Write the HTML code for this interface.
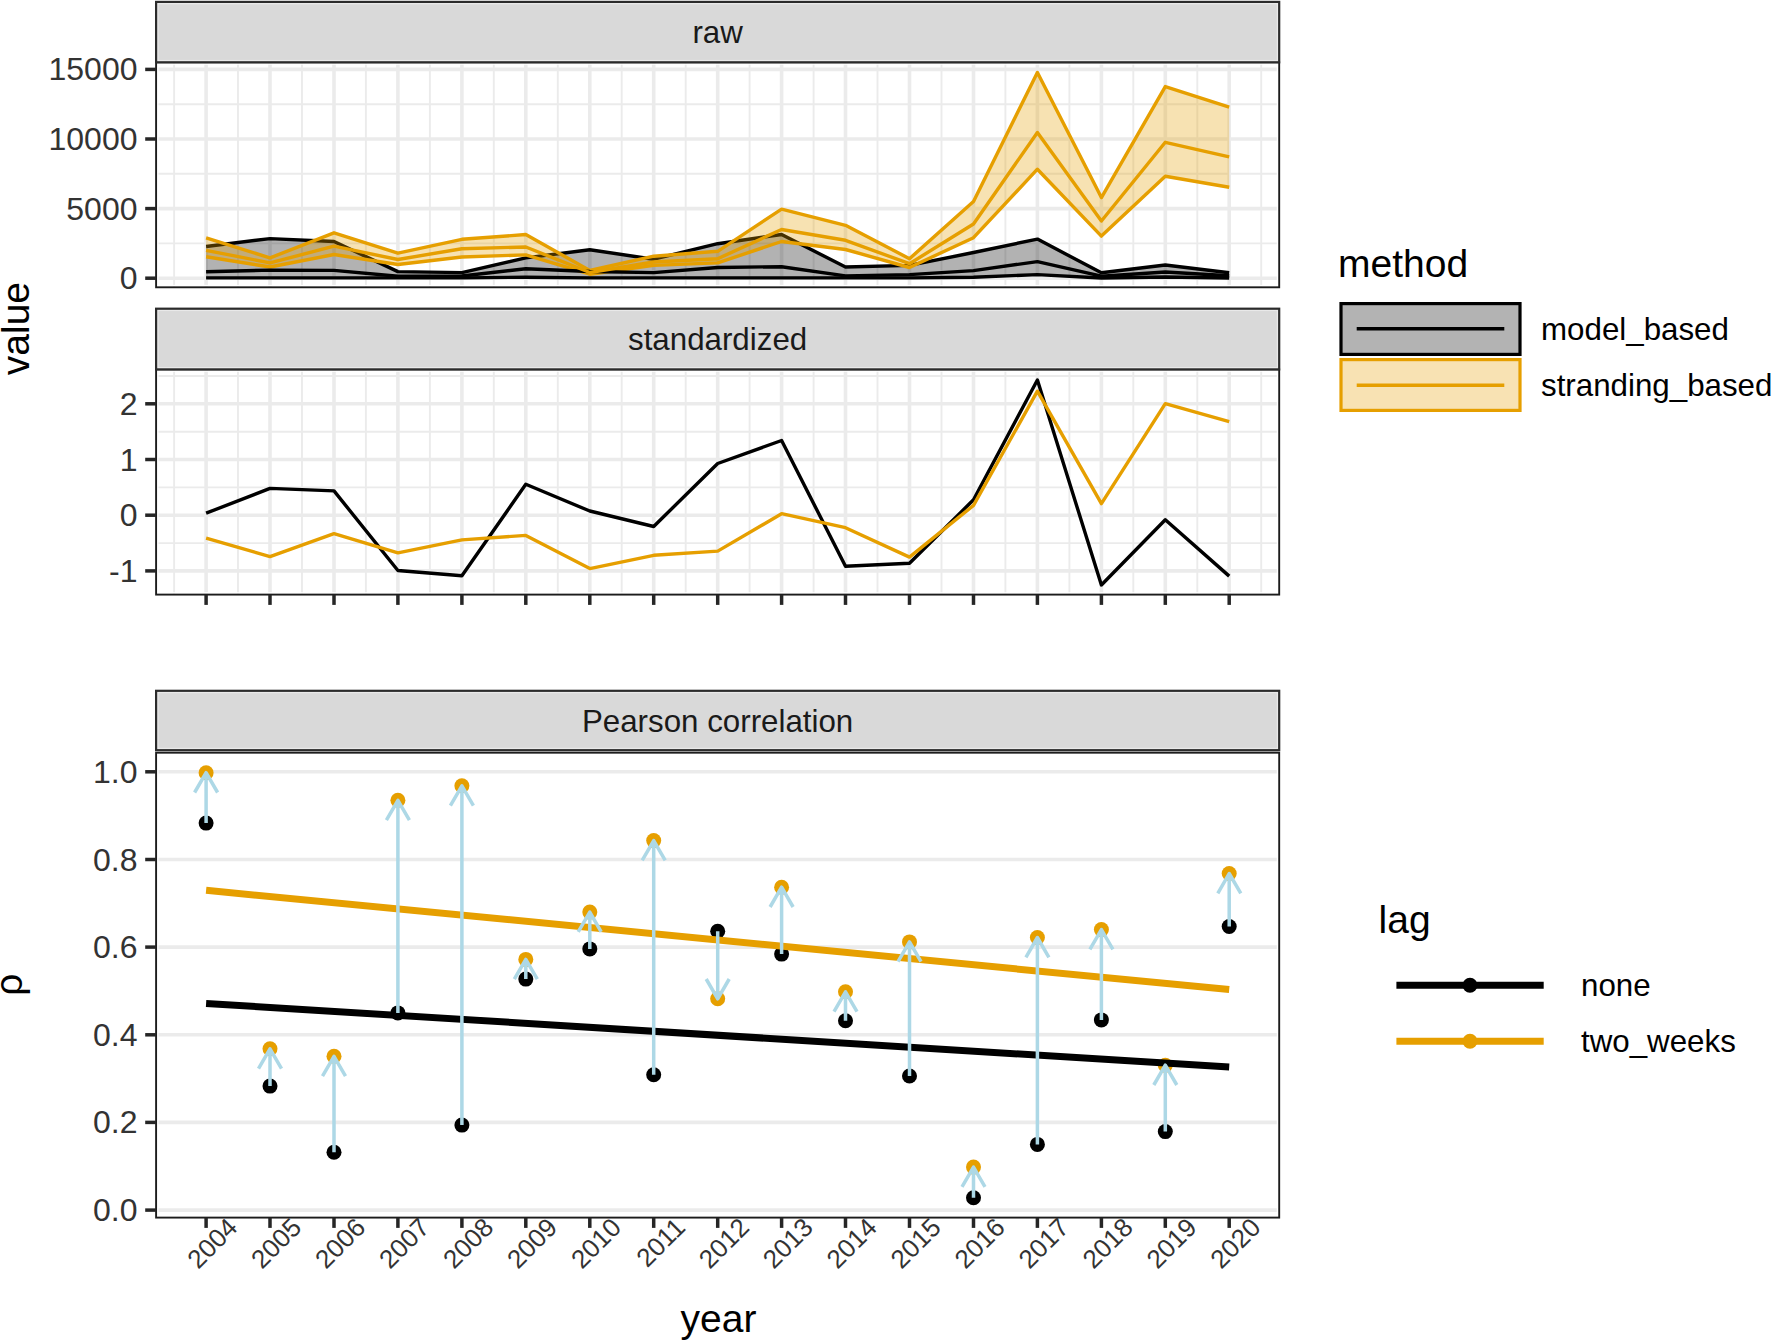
<!DOCTYPE html>
<html><head><meta charset="utf-8"><title>figure</title>
<style>html,body{margin:0;padding:0;background:#fff}svg{display:block}text{font-family:"Liberation Sans",sans-serif}.a{font-size:32px;fill:#333333}.s{font-size:31.3px;fill:#1A1A1A}.t{font-size:39px;fill:#000}.l{font-size:31.3px;fill:#000}</style></head><body>
<svg width="1772" height="1342" viewBox="0 0 1772 1342">
<rect width="1772" height="1342" fill="#fff"/>
<g>
<line x1="174.1" x2="174.1" y1="62.3" y2="287.3" stroke="#EBEBEB" stroke-width="1.9"/>
<line x1="238.0" x2="238.0" y1="62.3" y2="287.3" stroke="#EBEBEB" stroke-width="1.9"/>
<line x1="302.0" x2="302.0" y1="62.3" y2="287.3" stroke="#EBEBEB" stroke-width="1.9"/>
<line x1="365.9" x2="365.9" y1="62.3" y2="287.3" stroke="#EBEBEB" stroke-width="1.9"/>
<line x1="429.9" x2="429.9" y1="62.3" y2="287.3" stroke="#EBEBEB" stroke-width="1.9"/>
<line x1="493.8" x2="493.8" y1="62.3" y2="287.3" stroke="#EBEBEB" stroke-width="1.9"/>
<line x1="557.8" x2="557.8" y1="62.3" y2="287.3" stroke="#EBEBEB" stroke-width="1.9"/>
<line x1="621.7" x2="621.7" y1="62.3" y2="287.3" stroke="#EBEBEB" stroke-width="1.9"/>
<line x1="685.7" x2="685.7" y1="62.3" y2="287.3" stroke="#EBEBEB" stroke-width="1.9"/>
<line x1="749.6" x2="749.6" y1="62.3" y2="287.3" stroke="#EBEBEB" stroke-width="1.9"/>
<line x1="813.6" x2="813.6" y1="62.3" y2="287.3" stroke="#EBEBEB" stroke-width="1.9"/>
<line x1="877.5" x2="877.5" y1="62.3" y2="287.3" stroke="#EBEBEB" stroke-width="1.9"/>
<line x1="941.5" x2="941.5" y1="62.3" y2="287.3" stroke="#EBEBEB" stroke-width="1.9"/>
<line x1="1005.4" x2="1005.4" y1="62.3" y2="287.3" stroke="#EBEBEB" stroke-width="1.9"/>
<line x1="1069.4" x2="1069.4" y1="62.3" y2="287.3" stroke="#EBEBEB" stroke-width="1.9"/>
<line x1="1133.3" x2="1133.3" y1="62.3" y2="287.3" stroke="#EBEBEB" stroke-width="1.9"/>
<line x1="1197.3" x2="1197.3" y1="62.3" y2="287.3" stroke="#EBEBEB" stroke-width="1.9"/>
<line x1="1261.2" x2="1261.2" y1="62.3" y2="287.3" stroke="#EBEBEB" stroke-width="1.9"/>
<line x1="156.1" x2="1279.2" y1="243.4" y2="243.4" stroke="#EBEBEB" stroke-width="1.9"/>
<line x1="156.1" x2="1279.2" y1="173.8" y2="173.8" stroke="#EBEBEB" stroke-width="1.9"/>
<line x1="156.1" x2="1279.2" y1="104.2" y2="104.2" stroke="#EBEBEB" stroke-width="1.9"/>
<line x1="206.1" x2="206.1" y1="62.3" y2="287.3" stroke="#EBEBEB" stroke-width="3.6"/>
<line x1="270.0" x2="270.0" y1="62.3" y2="287.3" stroke="#EBEBEB" stroke-width="3.6"/>
<line x1="334.0" x2="334.0" y1="62.3" y2="287.3" stroke="#EBEBEB" stroke-width="3.6"/>
<line x1="397.9" x2="397.9" y1="62.3" y2="287.3" stroke="#EBEBEB" stroke-width="3.6"/>
<line x1="461.9" x2="461.9" y1="62.3" y2="287.3" stroke="#EBEBEB" stroke-width="3.6"/>
<line x1="525.8" x2="525.8" y1="62.3" y2="287.3" stroke="#EBEBEB" stroke-width="3.6"/>
<line x1="589.8" x2="589.8" y1="62.3" y2="287.3" stroke="#EBEBEB" stroke-width="3.6"/>
<line x1="653.7" x2="653.7" y1="62.3" y2="287.3" stroke="#EBEBEB" stroke-width="3.6"/>
<line x1="717.7" x2="717.7" y1="62.3" y2="287.3" stroke="#EBEBEB" stroke-width="3.6"/>
<line x1="781.6" x2="781.6" y1="62.3" y2="287.3" stroke="#EBEBEB" stroke-width="3.6"/>
<line x1="845.5" x2="845.5" y1="62.3" y2="287.3" stroke="#EBEBEB" stroke-width="3.6"/>
<line x1="909.5" x2="909.5" y1="62.3" y2="287.3" stroke="#EBEBEB" stroke-width="3.6"/>
<line x1="973.5" x2="973.5" y1="62.3" y2="287.3" stroke="#EBEBEB" stroke-width="3.6"/>
<line x1="1037.4" x2="1037.4" y1="62.3" y2="287.3" stroke="#EBEBEB" stroke-width="3.6"/>
<line x1="1101.4" x2="1101.4" y1="62.3" y2="287.3" stroke="#EBEBEB" stroke-width="3.6"/>
<line x1="1165.3" x2="1165.3" y1="62.3" y2="287.3" stroke="#EBEBEB" stroke-width="3.6"/>
<line x1="1229.2" x2="1229.2" y1="62.3" y2="287.3" stroke="#EBEBEB" stroke-width="3.6"/>
<line x1="156.1" x2="1279.2" y1="278.2" y2="278.2" stroke="#EBEBEB" stroke-width="3.6"/>
<line x1="156.1" x2="1279.2" y1="208.6" y2="208.6" stroke="#EBEBEB" stroke-width="3.6"/>
<line x1="156.1" x2="1279.2" y1="139.0" y2="139.0" stroke="#EBEBEB" stroke-width="3.6"/>
<line x1="156.1" x2="1279.2" y1="69.4" y2="69.4" stroke="#EBEBEB" stroke-width="3.6"/>
</g>
<polygon points="206.1,246.5 270.0,238.6 334.0,241.5 397.9,271.6 461.9,272.6 525.8,257.9 589.8,249.8 653.7,259.2 717.7,243.7 781.6,234.5 845.5,267.0 909.5,265.4 973.5,252.5 1037.4,239.1 1101.4,272.8 1165.3,265.0 1229.2,272.8 1229.2,278.0 1165.3,277.0 1101.4,278.0 1037.4,274.6 973.5,277.3 909.5,277.9 845.5,277.9 781.6,277.9 717.7,277.9 653.7,277.9 589.8,277.9 525.8,277.2 461.9,277.9 397.9,277.9 334.0,277.9 270.0,277.9 206.1,277.9" fill="#000" fill-opacity="0.3"/>
<polyline points="206.1,246.5 270.0,238.6 334.0,241.5 397.9,271.6 461.9,272.6 525.8,257.9 589.8,249.8 653.7,259.2 717.7,243.7 781.6,234.5 845.5,267.0 909.5,265.4 973.5,252.5 1037.4,239.1 1101.4,272.8 1165.3,265.0 1229.2,272.8" fill="none" stroke="#000" stroke-width="3.4" stroke-linejoin="round"/>
<polyline points="206.1,277.9 270.0,277.9 334.0,277.9 397.9,277.9 461.9,277.9 525.8,277.2 589.8,277.9 653.7,277.9 717.7,277.9 781.6,277.9 845.5,277.9 909.5,277.9 973.5,277.3 1037.4,274.6 1101.4,278.0 1165.3,277.0 1229.2,278.0" fill="none" stroke="#000" stroke-width="3.4" stroke-linejoin="round"/>
<polygon points="206.1,237.8 270.0,257.9 334.0,232.8 397.9,253.2 461.9,239.3 525.8,234.5 589.8,270.5 653.7,256.2 717.7,251.3 781.6,209.1 845.5,225.3 909.5,258.7 973.5,201.5 1037.4,72.4 1101.4,197.6 1165.3,86.6 1229.2,107.1 1229.2,187.3 1165.3,176.3 1101.4,236.1 1037.4,169.2 973.5,237.7 909.5,267.5 845.5,249.5 781.6,241.5 717.7,262.9 653.7,265.4 589.8,274.2 525.8,254.9 461.9,257.0 397.9,264.5 334.0,254.5 270.0,267.0 206.1,256.7" fill="#E69F00" fill-opacity="0.3"/>
<polyline points="206.1,237.8 270.0,257.9 334.0,232.8 397.9,253.2 461.9,239.3 525.8,234.5 589.8,270.5 653.7,256.2 717.7,251.3 781.6,209.1 845.5,225.3 909.5,258.7 973.5,201.5 1037.4,72.4 1101.4,197.6 1165.3,86.6 1229.2,107.1" fill="none" stroke="#E69F00" stroke-width="3.4" stroke-linejoin="round"/>
<polyline points="206.1,256.7 270.0,267.0 334.0,254.5 397.9,264.5 461.9,257.0 525.8,254.9 589.8,274.2 653.7,265.4 717.7,262.9 781.6,241.5 845.5,249.5 909.5,267.5 973.5,237.7 1037.4,169.2 1101.4,236.1 1165.3,176.3 1229.2,187.3" fill="none" stroke="#E69F00" stroke-width="3.4" stroke-linejoin="round"/>
<polyline points="206.1,271.7 270.0,270.1 334.0,270.4 397.9,276.2 461.9,276.0 525.8,268.7 589.8,271.5 653.7,272.6 717.7,267.5 781.6,266.7 845.5,275.9 909.5,274.6 973.5,270.6 1037.4,261.6 1101.4,276.2 1165.3,272.0 1229.2,275.8" fill="none" stroke="#000" stroke-width="3.4" stroke-linejoin="round"/>
<polyline points="206.1,250.3 270.0,262.9 334.0,246.2 397.9,259.5 461.9,248.7 525.8,247.0 589.8,272.5 653.7,262.0 717.7,258.7 781.6,229.5 845.5,240.3 909.5,263.7 973.5,224.0 1037.4,132.5 1101.4,221.0 1165.3,142.3 1229.2,156.9" fill="none" stroke="#E69F00" stroke-width="3.4" stroke-linejoin="round"/>
<rect x="157.79999999999998" y="64.0" width="1119.7" height="221.6" fill="none" stroke="#fff" stroke-width="1.4"/>
<rect x="156.1" y="62.3" width="1123.1" height="225.0" fill="none" stroke="#1C1C1C" stroke-width="1.9"/>
<rect x="156.1" y="1.9" width="1123.1" height="60.4" fill="#D9D9D9"/>
<rect x="157.79999999999998" y="3.5999999999999996" width="1119.7" height="57.0" fill="none" stroke="#E9E9E9" stroke-width="1.4"/>
<rect x="156.1" y="1.9" width="1123.1" height="60.4" fill="none" stroke="#2B2B2B" stroke-width="2.2"/>
<text class="s" x="717.6" y="43.3" text-anchor="middle">raw</text>
<line x1="145.2" x2="156.1" y1="69.4" y2="69.4" stroke="#262626" stroke-width="3.5"/>
<text class="a" x="137.5" y="80.4" text-anchor="end">15000</text>
<line x1="145.2" x2="156.1" y1="139.0" y2="139.0" stroke="#262626" stroke-width="3.5"/>
<text class="a" x="137.5" y="150.0" text-anchor="end">10000</text>
<line x1="145.2" x2="156.1" y1="208.6" y2="208.6" stroke="#262626" stroke-width="3.5"/>
<text class="a" x="137.5" y="219.6" text-anchor="end">5000</text>
<line x1="145.2" x2="156.1" y1="278.2" y2="278.2" stroke="#262626" stroke-width="3.5"/>
<text class="a" x="137.5" y="289.2" text-anchor="end">0</text>
<g>
<line x1="174.1" x2="174.1" y1="369.4" y2="594.6" stroke="#EBEBEB" stroke-width="1.9"/>
<line x1="238.0" x2="238.0" y1="369.4" y2="594.6" stroke="#EBEBEB" stroke-width="1.9"/>
<line x1="302.0" x2="302.0" y1="369.4" y2="594.6" stroke="#EBEBEB" stroke-width="1.9"/>
<line x1="365.9" x2="365.9" y1="369.4" y2="594.6" stroke="#EBEBEB" stroke-width="1.9"/>
<line x1="429.9" x2="429.9" y1="369.4" y2="594.6" stroke="#EBEBEB" stroke-width="1.9"/>
<line x1="493.8" x2="493.8" y1="369.4" y2="594.6" stroke="#EBEBEB" stroke-width="1.9"/>
<line x1="557.8" x2="557.8" y1="369.4" y2="594.6" stroke="#EBEBEB" stroke-width="1.9"/>
<line x1="621.7" x2="621.7" y1="369.4" y2="594.6" stroke="#EBEBEB" stroke-width="1.9"/>
<line x1="685.7" x2="685.7" y1="369.4" y2="594.6" stroke="#EBEBEB" stroke-width="1.9"/>
<line x1="749.6" x2="749.6" y1="369.4" y2="594.6" stroke="#EBEBEB" stroke-width="1.9"/>
<line x1="813.6" x2="813.6" y1="369.4" y2="594.6" stroke="#EBEBEB" stroke-width="1.9"/>
<line x1="877.5" x2="877.5" y1="369.4" y2="594.6" stroke="#EBEBEB" stroke-width="1.9"/>
<line x1="941.5" x2="941.5" y1="369.4" y2="594.6" stroke="#EBEBEB" stroke-width="1.9"/>
<line x1="1005.4" x2="1005.4" y1="369.4" y2="594.6" stroke="#EBEBEB" stroke-width="1.9"/>
<line x1="1069.4" x2="1069.4" y1="369.4" y2="594.6" stroke="#EBEBEB" stroke-width="1.9"/>
<line x1="1133.3" x2="1133.3" y1="369.4" y2="594.6" stroke="#EBEBEB" stroke-width="1.9"/>
<line x1="1197.3" x2="1197.3" y1="369.4" y2="594.6" stroke="#EBEBEB" stroke-width="1.9"/>
<line x1="1261.2" x2="1261.2" y1="369.4" y2="594.6" stroke="#EBEBEB" stroke-width="1.9"/>
<line x1="156.1" x2="1279.2" y1="376.0" y2="376.0" stroke="#EBEBEB" stroke-width="1.9"/>
<line x1="156.1" x2="1279.2" y1="431.7" y2="431.7" stroke="#EBEBEB" stroke-width="1.9"/>
<line x1="156.1" x2="1279.2" y1="487.4" y2="487.4" stroke="#EBEBEB" stroke-width="1.9"/>
<line x1="156.1" x2="1279.2" y1="543.1" y2="543.1" stroke="#EBEBEB" stroke-width="1.9"/>
<line x1="206.1" x2="206.1" y1="369.4" y2="594.6" stroke="#EBEBEB" stroke-width="3.6"/>
<line x1="270.0" x2="270.0" y1="369.4" y2="594.6" stroke="#EBEBEB" stroke-width="3.6"/>
<line x1="334.0" x2="334.0" y1="369.4" y2="594.6" stroke="#EBEBEB" stroke-width="3.6"/>
<line x1="397.9" x2="397.9" y1="369.4" y2="594.6" stroke="#EBEBEB" stroke-width="3.6"/>
<line x1="461.9" x2="461.9" y1="369.4" y2="594.6" stroke="#EBEBEB" stroke-width="3.6"/>
<line x1="525.8" x2="525.8" y1="369.4" y2="594.6" stroke="#EBEBEB" stroke-width="3.6"/>
<line x1="589.8" x2="589.8" y1="369.4" y2="594.6" stroke="#EBEBEB" stroke-width="3.6"/>
<line x1="653.7" x2="653.7" y1="369.4" y2="594.6" stroke="#EBEBEB" stroke-width="3.6"/>
<line x1="717.7" x2="717.7" y1="369.4" y2="594.6" stroke="#EBEBEB" stroke-width="3.6"/>
<line x1="781.6" x2="781.6" y1="369.4" y2="594.6" stroke="#EBEBEB" stroke-width="3.6"/>
<line x1="845.5" x2="845.5" y1="369.4" y2="594.6" stroke="#EBEBEB" stroke-width="3.6"/>
<line x1="909.5" x2="909.5" y1="369.4" y2="594.6" stroke="#EBEBEB" stroke-width="3.6"/>
<line x1="973.5" x2="973.5" y1="369.4" y2="594.6" stroke="#EBEBEB" stroke-width="3.6"/>
<line x1="1037.4" x2="1037.4" y1="369.4" y2="594.6" stroke="#EBEBEB" stroke-width="3.6"/>
<line x1="1101.4" x2="1101.4" y1="369.4" y2="594.6" stroke="#EBEBEB" stroke-width="3.6"/>
<line x1="1165.3" x2="1165.3" y1="369.4" y2="594.6" stroke="#EBEBEB" stroke-width="3.6"/>
<line x1="1229.2" x2="1229.2" y1="369.4" y2="594.6" stroke="#EBEBEB" stroke-width="3.6"/>
<line x1="156.1" x2="1279.2" y1="403.8" y2="403.8" stroke="#EBEBEB" stroke-width="3.6"/>
<line x1="156.1" x2="1279.2" y1="459.5" y2="459.5" stroke="#EBEBEB" stroke-width="3.6"/>
<line x1="156.1" x2="1279.2" y1="515.2" y2="515.2" stroke="#EBEBEB" stroke-width="3.6"/>
<line x1="156.1" x2="1279.2" y1="570.9" y2="570.9" stroke="#EBEBEB" stroke-width="3.6"/>
</g>
<polyline points="206.1,513.2 270.0,488.4 334.0,490.9 397.9,570.5 461.9,575.8 525.8,484.3 589.8,511.0 653.7,526.5 717.7,463.5 781.6,440.5 845.5,566.3 909.5,563.3 973.5,499.8 1037.4,380.0 1101.4,585.0 1165.3,519.8 1229.2,576.1" fill="none" stroke="#000" stroke-width="3.4" stroke-linejoin="round"/>
<polyline points="206.1,538.2 270.0,556.6 334.0,533.7 397.9,552.9 461.9,539.9 525.8,535.4 589.8,568.6 653.7,555.3 717.7,551.1 781.6,513.7 845.5,527.7 909.5,557.1 973.5,505.4 1037.4,391.2 1101.4,503.6 1165.3,403.7 1229.2,421.6" fill="none" stroke="#E69F00" stroke-width="3.4" stroke-linejoin="round"/>
<rect x="157.79999999999998" y="371.09999999999997" width="1119.7" height="221.8" fill="none" stroke="#fff" stroke-width="1.4"/>
<rect x="156.1" y="369.4" width="1123.1" height="225.2" fill="none" stroke="#1C1C1C" stroke-width="1.9"/>
<rect x="156.1" y="308.7" width="1123.1" height="60.7" fill="#D9D9D9"/>
<rect x="157.79999999999998" y="310.4" width="1119.7" height="57.3" fill="none" stroke="#E9E9E9" stroke-width="1.4"/>
<rect x="156.1" y="308.7" width="1123.1" height="60.7" fill="none" stroke="#2B2B2B" stroke-width="2.2"/>
<text class="s" x="717.6" y="350.2" text-anchor="middle">standardized</text>
<line x1="145.2" x2="156.1" y1="403.8" y2="403.8" stroke="#262626" stroke-width="3.5"/>
<text class="a" x="137.5" y="414.8" text-anchor="end">2</text>
<line x1="145.2" x2="156.1" y1="459.5" y2="459.5" stroke="#262626" stroke-width="3.5"/>
<text class="a" x="137.5" y="470.5" text-anchor="end">1</text>
<line x1="145.2" x2="156.1" y1="515.2" y2="515.2" stroke="#262626" stroke-width="3.5"/>
<text class="a" x="137.5" y="526.2" text-anchor="end">0</text>
<line x1="145.2" x2="156.1" y1="570.9" y2="570.9" stroke="#262626" stroke-width="3.5"/>
<text class="a" x="137.5" y="581.9" text-anchor="end">-1</text>
<line x1="206.1" x2="206.1" y1="594.6" y2="604.9" stroke="#262626" stroke-width="3.5"/>
<line x1="270.0" x2="270.0" y1="594.6" y2="604.9" stroke="#262626" stroke-width="3.5"/>
<line x1="334.0" x2="334.0" y1="594.6" y2="604.9" stroke="#262626" stroke-width="3.5"/>
<line x1="397.9" x2="397.9" y1="594.6" y2="604.9" stroke="#262626" stroke-width="3.5"/>
<line x1="461.9" x2="461.9" y1="594.6" y2="604.9" stroke="#262626" stroke-width="3.5"/>
<line x1="525.8" x2="525.8" y1="594.6" y2="604.9" stroke="#262626" stroke-width="3.5"/>
<line x1="589.8" x2="589.8" y1="594.6" y2="604.9" stroke="#262626" stroke-width="3.5"/>
<line x1="653.7" x2="653.7" y1="594.6" y2="604.9" stroke="#262626" stroke-width="3.5"/>
<line x1="717.7" x2="717.7" y1="594.6" y2="604.9" stroke="#262626" stroke-width="3.5"/>
<line x1="781.6" x2="781.6" y1="594.6" y2="604.9" stroke="#262626" stroke-width="3.5"/>
<line x1="845.5" x2="845.5" y1="594.6" y2="604.9" stroke="#262626" stroke-width="3.5"/>
<line x1="909.5" x2="909.5" y1="594.6" y2="604.9" stroke="#262626" stroke-width="3.5"/>
<line x1="973.5" x2="973.5" y1="594.6" y2="604.9" stroke="#262626" stroke-width="3.5"/>
<line x1="1037.4" x2="1037.4" y1="594.6" y2="604.9" stroke="#262626" stroke-width="3.5"/>
<line x1="1101.4" x2="1101.4" y1="594.6" y2="604.9" stroke="#262626" stroke-width="3.5"/>
<line x1="1165.3" x2="1165.3" y1="594.6" y2="604.9" stroke="#262626" stroke-width="3.5"/>
<line x1="1229.2" x2="1229.2" y1="594.6" y2="604.9" stroke="#262626" stroke-width="3.5"/>
<g>
<line x1="156.1" x2="1279.2" y1="1210.1" y2="1210.1" stroke="#EBEBEB" stroke-width="3.6"/>
<line x1="156.1" x2="1279.2" y1="1122.4" y2="1122.4" stroke="#EBEBEB" stroke-width="3.6"/>
<line x1="156.1" x2="1279.2" y1="1034.8" y2="1034.8" stroke="#EBEBEB" stroke-width="3.6"/>
<line x1="156.1" x2="1279.2" y1="947.1" y2="947.1" stroke="#EBEBEB" stroke-width="3.6"/>
<line x1="156.1" x2="1279.2" y1="859.5" y2="859.5" stroke="#EBEBEB" stroke-width="3.6"/>
<line x1="156.1" x2="1279.2" y1="771.8" y2="771.8" stroke="#EBEBEB" stroke-width="3.6"/>
</g>
<circle cx="206.1" cy="823.1" r="7.5" fill="#000"/>
<circle cx="206.1" cy="772.7" r="7.5" fill="#E69F00"/>
<circle cx="270.0" cy="1086.1" r="7.5" fill="#000"/>
<circle cx="270.0" cy="1048.8" r="7.5" fill="#E69F00"/>
<circle cx="334.0" cy="1152.2" r="7.5" fill="#000"/>
<circle cx="334.0" cy="1056.3" r="7.5" fill="#E69F00"/>
<circle cx="397.9" cy="1012.9" r="7.5" fill="#000"/>
<circle cx="397.9" cy="800.3" r="7.5" fill="#E69F00"/>
<circle cx="461.9" cy="1125.1" r="7.5" fill="#000"/>
<circle cx="461.9" cy="785.8" r="7.5" fill="#E69F00"/>
<circle cx="525.8" cy="979.1" r="7.5" fill="#000"/>
<circle cx="525.8" cy="959.4" r="7.5" fill="#E69F00"/>
<circle cx="589.8" cy="948.9" r="7.5" fill="#000"/>
<circle cx="589.8" cy="912.1" r="7.5" fill="#E69F00"/>
<circle cx="653.7" cy="1074.7" r="7.5" fill="#000"/>
<circle cx="653.7" cy="840.6" r="7.5" fill="#E69F00"/>
<circle cx="717.7" cy="931.3" r="7.5" fill="#000"/>
<circle cx="717.7" cy="998.8" r="7.5" fill="#E69F00"/>
<circle cx="781.6" cy="954.1" r="7.5" fill="#000"/>
<circle cx="781.6" cy="887.2" r="7.5" fill="#E69F00"/>
<circle cx="845.5" cy="1020.8" r="7.5" fill="#000"/>
<circle cx="845.5" cy="991.8" r="7.5" fill="#E69F00"/>
<circle cx="909.5" cy="1076.0" r="7.5" fill="#000"/>
<circle cx="909.5" cy="941.9" r="7.5" fill="#E69F00"/>
<circle cx="973.5" cy="1197.8" r="7.5" fill="#000"/>
<circle cx="973.5" cy="1167.1" r="7.5" fill="#E69F00"/>
<circle cx="1037.4" cy="1144.4" r="7.5" fill="#000"/>
<circle cx="1037.4" cy="937.5" r="7.5" fill="#E69F00"/>
<circle cx="1101.4" cy="1019.9" r="7.5" fill="#000"/>
<circle cx="1101.4" cy="929.6" r="7.5" fill="#E69F00"/>
<circle cx="1165.3" cy="1131.6" r="7.5" fill="#000"/>
<circle cx="1165.3" cy="1065.2" r="7.5" fill="#E69F00"/>
<circle cx="1229.2" cy="926.5" r="7.5" fill="#000"/>
<circle cx="1229.2" cy="873.5" r="7.5" fill="#E69F00"/>
<line x1="206.1" y1="1003.5" x2="1229.2" y2="1067.0" stroke="#000" stroke-width="7"/>
<line x1="206.1" y1="890.3" x2="1229.2" y2="989.6" stroke="#E69F00" stroke-width="7"/>
<path d="M206.1,823.1L206.1,772.7M194.6,792.5L206.1,772.7L217.6,792.5" fill="none" stroke="#ADD8E6" stroke-width="3.5" stroke-linejoin="round"/>
<path d="M270.0,1086.1L270.0,1048.8M258.5,1068.6L270.0,1048.8L281.5,1068.6" fill="none" stroke="#ADD8E6" stroke-width="3.5" stroke-linejoin="round"/>
<path d="M334.0,1152.2L334.0,1056.3M322.5,1076.1L334.0,1056.3L345.5,1076.1" fill="none" stroke="#ADD8E6" stroke-width="3.5" stroke-linejoin="round"/>
<path d="M397.9,1012.9L397.9,800.3M386.4,820.1L397.9,800.3L409.4,820.1" fill="none" stroke="#ADD8E6" stroke-width="3.5" stroke-linejoin="round"/>
<path d="M461.9,1125.1L461.9,785.8M450.4,805.6L461.9,785.8L473.4,805.6" fill="none" stroke="#ADD8E6" stroke-width="3.5" stroke-linejoin="round"/>
<path d="M525.8,979.1L525.8,959.4M514.3,979.2L525.8,959.4L537.3,979.2" fill="none" stroke="#ADD8E6" stroke-width="3.5" stroke-linejoin="round"/>
<path d="M589.8,948.9L589.8,912.1M578.2,931.9L589.8,912.1L601.2,931.9" fill="none" stroke="#ADD8E6" stroke-width="3.5" stroke-linejoin="round"/>
<path d="M653.7,1074.7L653.7,840.6M642.2,860.4L653.7,840.6L665.2,860.4" fill="none" stroke="#ADD8E6" stroke-width="3.5" stroke-linejoin="round"/>
<path d="M717.7,931.3L717.7,998.8M706.2,979.0L717.7,998.8L729.2,979.0" fill="none" stroke="#ADD8E6" stroke-width="3.5" stroke-linejoin="round"/>
<path d="M781.6,954.1L781.6,887.2M770.1,907.0L781.6,887.2L793.1,907.0" fill="none" stroke="#ADD8E6" stroke-width="3.5" stroke-linejoin="round"/>
<path d="M845.5,1020.8L845.5,991.8M834.0,1011.6L845.5,991.8L857.0,1011.6" fill="none" stroke="#ADD8E6" stroke-width="3.5" stroke-linejoin="round"/>
<path d="M909.5,1076.0L909.5,941.9M898.0,961.7L909.5,941.9L921.0,961.7" fill="none" stroke="#ADD8E6" stroke-width="3.5" stroke-linejoin="round"/>
<path d="M973.5,1197.8L973.5,1167.1M962.0,1186.9L973.5,1167.1L985.0,1186.9" fill="none" stroke="#ADD8E6" stroke-width="3.5" stroke-linejoin="round"/>
<path d="M1037.4,1144.4L1037.4,937.5M1025.9,957.3L1037.4,937.5L1048.9,957.3" fill="none" stroke="#ADD8E6" stroke-width="3.5" stroke-linejoin="round"/>
<path d="M1101.4,1019.9L1101.4,929.6M1089.9,949.4L1101.4,929.6L1112.9,949.4" fill="none" stroke="#ADD8E6" stroke-width="3.5" stroke-linejoin="round"/>
<path d="M1165.3,1131.6L1165.3,1065.2M1153.8,1085.0L1165.3,1065.2L1176.8,1085.0" fill="none" stroke="#ADD8E6" stroke-width="3.5" stroke-linejoin="round"/>
<path d="M1229.2,926.5L1229.2,873.5M1217.8,893.3L1229.2,873.5L1240.8,893.3" fill="none" stroke="#ADD8E6" stroke-width="3.5" stroke-linejoin="round"/>
<rect x="157.79999999999998" y="754.4000000000001" width="1119.7" height="461.5" fill="none" stroke="#fff" stroke-width="1.4"/>
<rect x="156.1" y="752.7" width="1123.1" height="464.9" fill="none" stroke="#1C1C1C" stroke-width="1.9"/>
<rect x="156.1" y="690.8" width="1123.1" height="59.4" fill="#D9D9D9"/>
<rect x="157.79999999999998" y="692.5" width="1119.7" height="56.0" fill="none" stroke="#E9E9E9" stroke-width="1.4"/>
<rect x="156.1" y="690.8" width="1123.1" height="59.4" fill="none" stroke="#2B2B2B" stroke-width="2.2"/>
<text class="s" x="717.6" y="731.7" text-anchor="middle">Pearson correlation</text>
<line x1="145.2" x2="156.1" y1="1210.1" y2="1210.1" stroke="#262626" stroke-width="3.5"/>
<text class="a" x="137.5" y="1221.1" text-anchor="end">0.0</text>
<line x1="145.2" x2="156.1" y1="1122.4" y2="1122.4" stroke="#262626" stroke-width="3.5"/>
<text class="a" x="137.5" y="1133.4" text-anchor="end">0.2</text>
<line x1="145.2" x2="156.1" y1="1034.8" y2="1034.8" stroke="#262626" stroke-width="3.5"/>
<text class="a" x="137.5" y="1045.8" text-anchor="end">0.4</text>
<line x1="145.2" x2="156.1" y1="947.1" y2="947.1" stroke="#262626" stroke-width="3.5"/>
<text class="a" x="137.5" y="958.1" text-anchor="end">0.6</text>
<line x1="145.2" x2="156.1" y1="859.5" y2="859.5" stroke="#262626" stroke-width="3.5"/>
<text class="a" x="137.5" y="870.5" text-anchor="end">0.8</text>
<line x1="145.2" x2="156.1" y1="771.8" y2="771.8" stroke="#262626" stroke-width="3.5"/>
<text class="a" x="137.5" y="782.8" text-anchor="end">1.0</text>
<line x1="206.1" x2="206.1" y1="1217.6" y2="1227.9" stroke="#262626" stroke-width="3.5"/>
<line x1="270.0" x2="270.0" y1="1217.6" y2="1227.9" stroke="#262626" stroke-width="3.5"/>
<line x1="334.0" x2="334.0" y1="1217.6" y2="1227.9" stroke="#262626" stroke-width="3.5"/>
<line x1="397.9" x2="397.9" y1="1217.6" y2="1227.9" stroke="#262626" stroke-width="3.5"/>
<line x1="461.9" x2="461.9" y1="1217.6" y2="1227.9" stroke="#262626" stroke-width="3.5"/>
<line x1="525.8" x2="525.8" y1="1217.6" y2="1227.9" stroke="#262626" stroke-width="3.5"/>
<line x1="589.8" x2="589.8" y1="1217.6" y2="1227.9" stroke="#262626" stroke-width="3.5"/>
<line x1="653.7" x2="653.7" y1="1217.6" y2="1227.9" stroke="#262626" stroke-width="3.5"/>
<line x1="717.7" x2="717.7" y1="1217.6" y2="1227.9" stroke="#262626" stroke-width="3.5"/>
<line x1="781.6" x2="781.6" y1="1217.6" y2="1227.9" stroke="#262626" stroke-width="3.5"/>
<line x1="845.5" x2="845.5" y1="1217.6" y2="1227.9" stroke="#262626" stroke-width="3.5"/>
<line x1="909.5" x2="909.5" y1="1217.6" y2="1227.9" stroke="#262626" stroke-width="3.5"/>
<line x1="973.5" x2="973.5" y1="1217.6" y2="1227.9" stroke="#262626" stroke-width="3.5"/>
<line x1="1037.4" x2="1037.4" y1="1217.6" y2="1227.9" stroke="#262626" stroke-width="3.5"/>
<line x1="1101.4" x2="1101.4" y1="1217.6" y2="1227.9" stroke="#262626" stroke-width="3.5"/>
<line x1="1165.3" x2="1165.3" y1="1217.6" y2="1227.9" stroke="#262626" stroke-width="3.5"/>
<line x1="1229.2" x2="1229.2" y1="1217.6" y2="1227.9" stroke="#262626" stroke-width="3.5"/>
<text class="a" style="font-size:26px" transform="translate(239.1,1229.0) rotate(-45)" text-anchor="end">2004</text>
<text class="a" style="font-size:26px" transform="translate(303.0,1229.0) rotate(-45)" text-anchor="end">2005</text>
<text class="a" style="font-size:26px" transform="translate(367.0,1229.0) rotate(-45)" text-anchor="end">2006</text>
<text class="a" style="font-size:26px" transform="translate(430.9,1229.0) rotate(-45)" text-anchor="end">2007</text>
<text class="a" style="font-size:26px" transform="translate(494.9,1229.0) rotate(-45)" text-anchor="end">2008</text>
<text class="a" style="font-size:26px" transform="translate(558.8,1229.0) rotate(-45)" text-anchor="end">2009</text>
<text class="a" style="font-size:26px" transform="translate(622.8,1229.0) rotate(-45)" text-anchor="end">2010</text>
<text class="a" style="font-size:26px" transform="translate(686.7,1229.0) rotate(-45)" text-anchor="end">2011</text>
<text class="a" style="font-size:26px" transform="translate(750.7,1229.0) rotate(-45)" text-anchor="end">2012</text>
<text class="a" style="font-size:26px" transform="translate(814.6,1229.0) rotate(-45)" text-anchor="end">2013</text>
<text class="a" style="font-size:26px" transform="translate(878.5,1229.0) rotate(-45)" text-anchor="end">2014</text>
<text class="a" style="font-size:26px" transform="translate(942.5,1229.0) rotate(-45)" text-anchor="end">2015</text>
<text class="a" style="font-size:26px" transform="translate(1006.5,1229.0) rotate(-45)" text-anchor="end">2016</text>
<text class="a" style="font-size:26px" transform="translate(1070.4,1229.0) rotate(-45)" text-anchor="end">2017</text>
<text class="a" style="font-size:26px" transform="translate(1134.4,1229.0) rotate(-45)" text-anchor="end">2018</text>
<text class="a" style="font-size:26px" transform="translate(1198.3,1229.0) rotate(-45)" text-anchor="end">2019</text>
<text class="a" style="font-size:26px" transform="translate(1262.2,1229.0) rotate(-45)" text-anchor="end">2020</text>
<text class="t" transform="translate(29.3,328.6) rotate(-90)" text-anchor="middle">value</text>
<text class="t" transform="translate(22.4,984.6) rotate(-90)" text-anchor="middle">ρ</text>
<text class="t" x="718.5" y="1331.9" text-anchor="middle">year</text>
<text class="t" x="1338" y="277.3">method</text>
<rect x="1341" y="303.6" width="179" height="50.8" fill="#B3B3B3" stroke="#000" stroke-width="3.2"/>
<line x1="1356.7" x2="1504.3" y1="328.7" y2="328.7" stroke="#000" stroke-width="3.4"/>
<rect x="1341" y="359.6" width="179" height="50.8" fill="#F8E2B3" stroke="#E69F00" stroke-width="3.2"/>
<line x1="1356.7" x2="1504.3" y1="385.2" y2="385.2" stroke="#E69F00" stroke-width="3.4"/>
<text class="l" x="1541" y="340.4">model_based</text>
<text class="l" x="1541" y="395.8">stranding_based</text>
<text class="t" x="1378.6" y="933.3">lag</text>
<line x1="1396.4" x2="1543.7" y1="985.2" y2="985.2" stroke="#000" stroke-width="7"/>
<circle cx="1470" cy="985.2" r="7.5" fill="#000"/>
<line x1="1396.4" x2="1543.7" y1="1041.2" y2="1041.2" stroke="#E69F00" stroke-width="7"/>
<circle cx="1470" cy="1041.2" r="7.5" fill="#E69F00"/>
<text class="l" x="1581" y="996.4">none</text>
<text class="l" x="1581" y="1052.4">two_weeks</text>
</svg></body></html>
